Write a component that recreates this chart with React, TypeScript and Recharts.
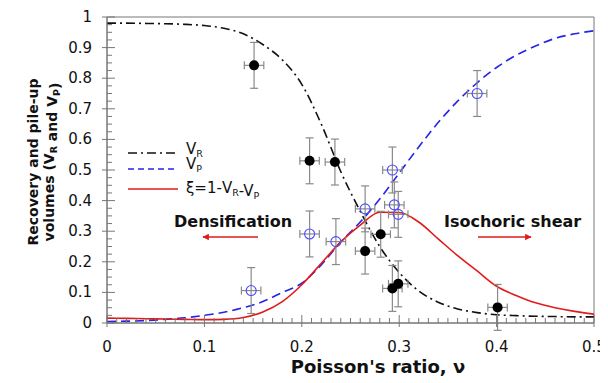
import { ComposedChart, Line, Scatter, ErrorBar, XAxis, YAxis, ReferenceArea } from "recharts";

// curve samples
const nu = [0, 0.02, 0.04, 0.06, 0.08, 0.1, 0.12, 0.14, 0.16, 0.18, 0.2, 0.22, 0.24, 0.26, 0.28, 0.3, 0.32, 0.34, 0.36, 0.38, 0.4, 0.42, 0.44, 0.46, 0.48, 0.5];
const vR = [0.98, 0.98, 0.979, 0.978, 0.976, 0.972, 0.963, 0.945, 0.91, 0.86, 0.78, 0.65, 0.495, 0.365, 0.25, 0.165, 0.105, 0.068, 0.046, 0.034, 0.027, 0.024, 0.022, 0.021, 0.02, 0.02];
const vP = [0.005, 0.006, 0.008, 0.012, 0.017, 0.025, 0.035, 0.05, 0.07, 0.1, 0.13, 0.19, 0.265, 0.33, 0.405, 0.49, 0.575, 0.655, 0.725, 0.785, 0.835, 0.875, 0.905, 0.93, 0.945, 0.955];
const xi = [0.016, 0.015, 0.014, 0.013, 0.012, 0.011, 0.012, 0.018, 0.036, 0.07, 0.125, 0.195, 0.265, 0.32, 0.362, 0.361, 0.33, 0.275, 0.22, 0.17, 0.12, 0.09, 0.066, 0.05, 0.038, 0.029];

// measured points (filled = V_R, open = V_P)
const recNu = [0.151, 0.208, 0.234, 0.265, 0.281, 0.293, 0.299, 0.401];
const recV = [0.842, 0.53, 0.526, 0.235, 0.29, 0.113, 0.128, 0.051];
const pileNu = [0.148, 0.208, 0.235, 0.265, 0.293, 0.295, 0.299, 0.38];
const pileV = [0.106, 0.291, 0.266, 0.373, 0.5, 0.386, 0.355, 0.75];
const errY = 0.075;
const errX = 0.01;

const xMajor = [0, 0.1, 0.2, 0.3, 0.4, 0.5];
const yMajor = [0, 0.1, 0.2, 0.3, 0.4, 0.5, 0.6, 0.7, 0.8, 0.9, 1];
const xTicks = Array.from({ length: 51 }, (_, i) => +(i * 0.01).toFixed(2));
const yTicks = Array.from({ length: 41 }, (_, i) => +(i * 0.025).toFixed(3));

const curves = nu.map((n, i) => ({ nu: n, vr: vR[i], vp: vP[i], xi: xi[i] }));
const recData = recNu.map((n, i) => ({ nu: n, v: recV[i], ex: errX, ey: errY }));
const pileData = pileNu.map((n, i) => ({ nu: n, v: pileV[i], ex: errX, ey: errY }));

const FONT = "'DejaVu Sans', Verdana, sans-serif";
const AX = "#777";

const isMajor = (v: number, list: number[]) => list.some((m) => Math.abs(m - v) < 1e-6);
const fmt = (v: number) => (v === 0 ? "0" : v === 1 ? "1" : String(v));

const XTick = (p: any) => {
  const { x, y, payload } = p;
  const major = isMajor(payload.value, xMajor);
  return (
    <g>
      <line x1={x} x2={x} y1={y - (major ? 8 : 5)} y2={y + (major ? 4 : 0)} stroke={AX} />
      {major && (
        <text x={x} y={y + 29} textAnchor="middle" fontSize={15} fontFamily={FONT} fill="#111">{fmt(payload.value)}</text>
      )}
    </g>
  );
};

const YTick = (p: any) => {
  const { x, y, payload } = p;
  const major = isMajor(payload.value, yMajor);
  return (
    <g>
      <line x1={x - (major ? 5 : 0)} x2={x + (major ? 8 : 5)} y1={y} y2={y} stroke={AX} />
      {major && (
        <text x={x - 15} y={y + 5} textAnchor="end" fontSize={15} fontFamily={FONT} fill="#111">{fmt(payload.value)}</text>
      )}
    </g>
  );
};

const dot = (p: any) => <circle cx={p.cx} cy={p.cy} r={5} fill="#000" />;
const ring = (p: any) => <circle cx={p.cx} cy={p.cy} r={5} fill="none" stroke="#4b4bff" strokeWidth={1.1} />;

const Sub = ({ c }: { c: string }) => (
  <>
    <tspan fontSize={9.5} dy={3}>{c}</tspan>
    <tspan dy={-3}></tspan>
  </>
);

export default function App() {
  return (
    <div style={{ position: "relative", width: 600, height: 375 }}>
      <ComposedChart width={600} height={375} data={curves} margin={{ top: 9, right: 14, left: 0, bottom: 0 }}>
        <XAxis dataKey="nu" type="number" domain={[0, 0.5]} allowDataOverflow ticks={xTicks} interval={0} height={60}
          tickSize={0} tickMargin={0} tick={<XTick />} tickLine={false} axisLine={{ stroke: AX }} />
        <YAxis type="number" domain={[0, 1]} allowDataOverflow ticks={yTicks} interval={0} width={99}
          tickSize={0} tickMargin={0} tick={<YTick />} tickLine={false} axisLine={{ stroke: AX }} />
        <ReferenceArea x1={0} x2={0.5} y1={0} y2={1} fill="none" stroke={AX} strokeWidth={1} />
        <Line dataKey="vr" type="monotone" stroke="#111" strokeWidth={1.6} strokeDasharray="9 4 2 4" dot={false} isAnimationActive={false} />
        <Line dataKey="vp" type="monotone" stroke="#2424e6" strokeWidth={1.6} strokeDasharray="9 5" dot={false} isAnimationActive={false} />
        <Line dataKey="xi" type="monotone" stroke="#e01b1b" strokeWidth={1.6} dot={false} isAnimationActive={false} />
        <Scatter data={recData} dataKey="v" shape={dot} isAnimationActive={false}>
          <ErrorBar dataKey="ey" direction="y" width={4} stroke="#8a8a8a" strokeWidth={1.2} isAnimationActive={false} />
          <ErrorBar dataKey="ex" direction="x" width={4} stroke="#8a8a8a" strokeWidth={1.2} isAnimationActive={false} />
        </Scatter>
        <Scatter data={pileData} dataKey="v" shape={ring} isAnimationActive={false}>
          <ErrorBar dataKey="ey" direction="y" width={4} stroke="#8a8a8a" strokeWidth={1.2} isAnimationActive={false} />
          <ErrorBar dataKey="ex" direction="x" width={4} stroke="#8a8a8a" strokeWidth={1.2} isAnimationActive={false} />
        </Scatter>
      </ComposedChart>
      <svg width={600} height={375} style={{ position: "absolute", left: 0, top: 0, pointerEvents: "none" }} fontFamily={FONT}>
        <defs>
          <marker id="ah" viewBox="0 0 10 10" refX="9" refY="5" markerWidth="5" markerHeight="5" orient="auto">
            <path d="M0,0 L10,5 L0,10 z" fill="#e01b1b" />
          </marker>
        </defs>
        {/* legend */}
        <line x1={120} x2={170} y1={145} y2={145} stroke="#111" strokeWidth={1.6} strokeDasharray="9 4 2 4" />
        <text x={178} y={146} fontSize={15} fill="#111">V<Sub c="R" /></text>
        <line x1={120} x2={170} y1={161} y2={161} stroke="#2424e6" strokeWidth={1.6} strokeDasharray="6 4" />
        <text x={178} y={161} fontSize={15} fill="#111">V<Sub c="P" /></text>
        <line x1={120} x2={170} y1={181} y2={181} stroke="#e01b1b" strokeWidth={1.6} />
        <text x={178} y={185} fontSize={15} fill="#111">ξ=1-V<Sub c="R" />-V<Sub c="P" /></text>
        {/* regime annotations */}
        <text x={166} y={219} fontSize={16} fontWeight="bold" fill="#111">Densification</text>
        <line x1={250} x2={195} y1={229} y2={229} stroke="#e01b1b" strokeWidth={1.3} markerEnd="url(#ah)" />
        <text x={436} y={219} fontSize={16} fontWeight="bold" fill="#111">Isochoric shear</text>
        <line x1={470} x2={523} y1={229} y2={229} stroke="#e01b1b" strokeWidth={1.3} markerEnd="url(#ah)" />
        {/* axis titles */}
        <text transform="translate(30,154) rotate(-90)" textAnchor="middle" fontSize={14} fontWeight="bold" fill="#111">
          <tspan x={0} dy={0}>Recovery and pile-up</tspan>
          <tspan x={0} dy={16}>volumes (V</tspan><Sub c="R" /><tspan> and V</tspan><Sub c="P" /><tspan>)</tspan>
        </text>
        <text x={370} y={365} textAnchor="middle" fontSize={18} fontWeight="bold" fill="#111">Poisson's ratio, ν</text>
      </svg>
    </div>
  );
}
